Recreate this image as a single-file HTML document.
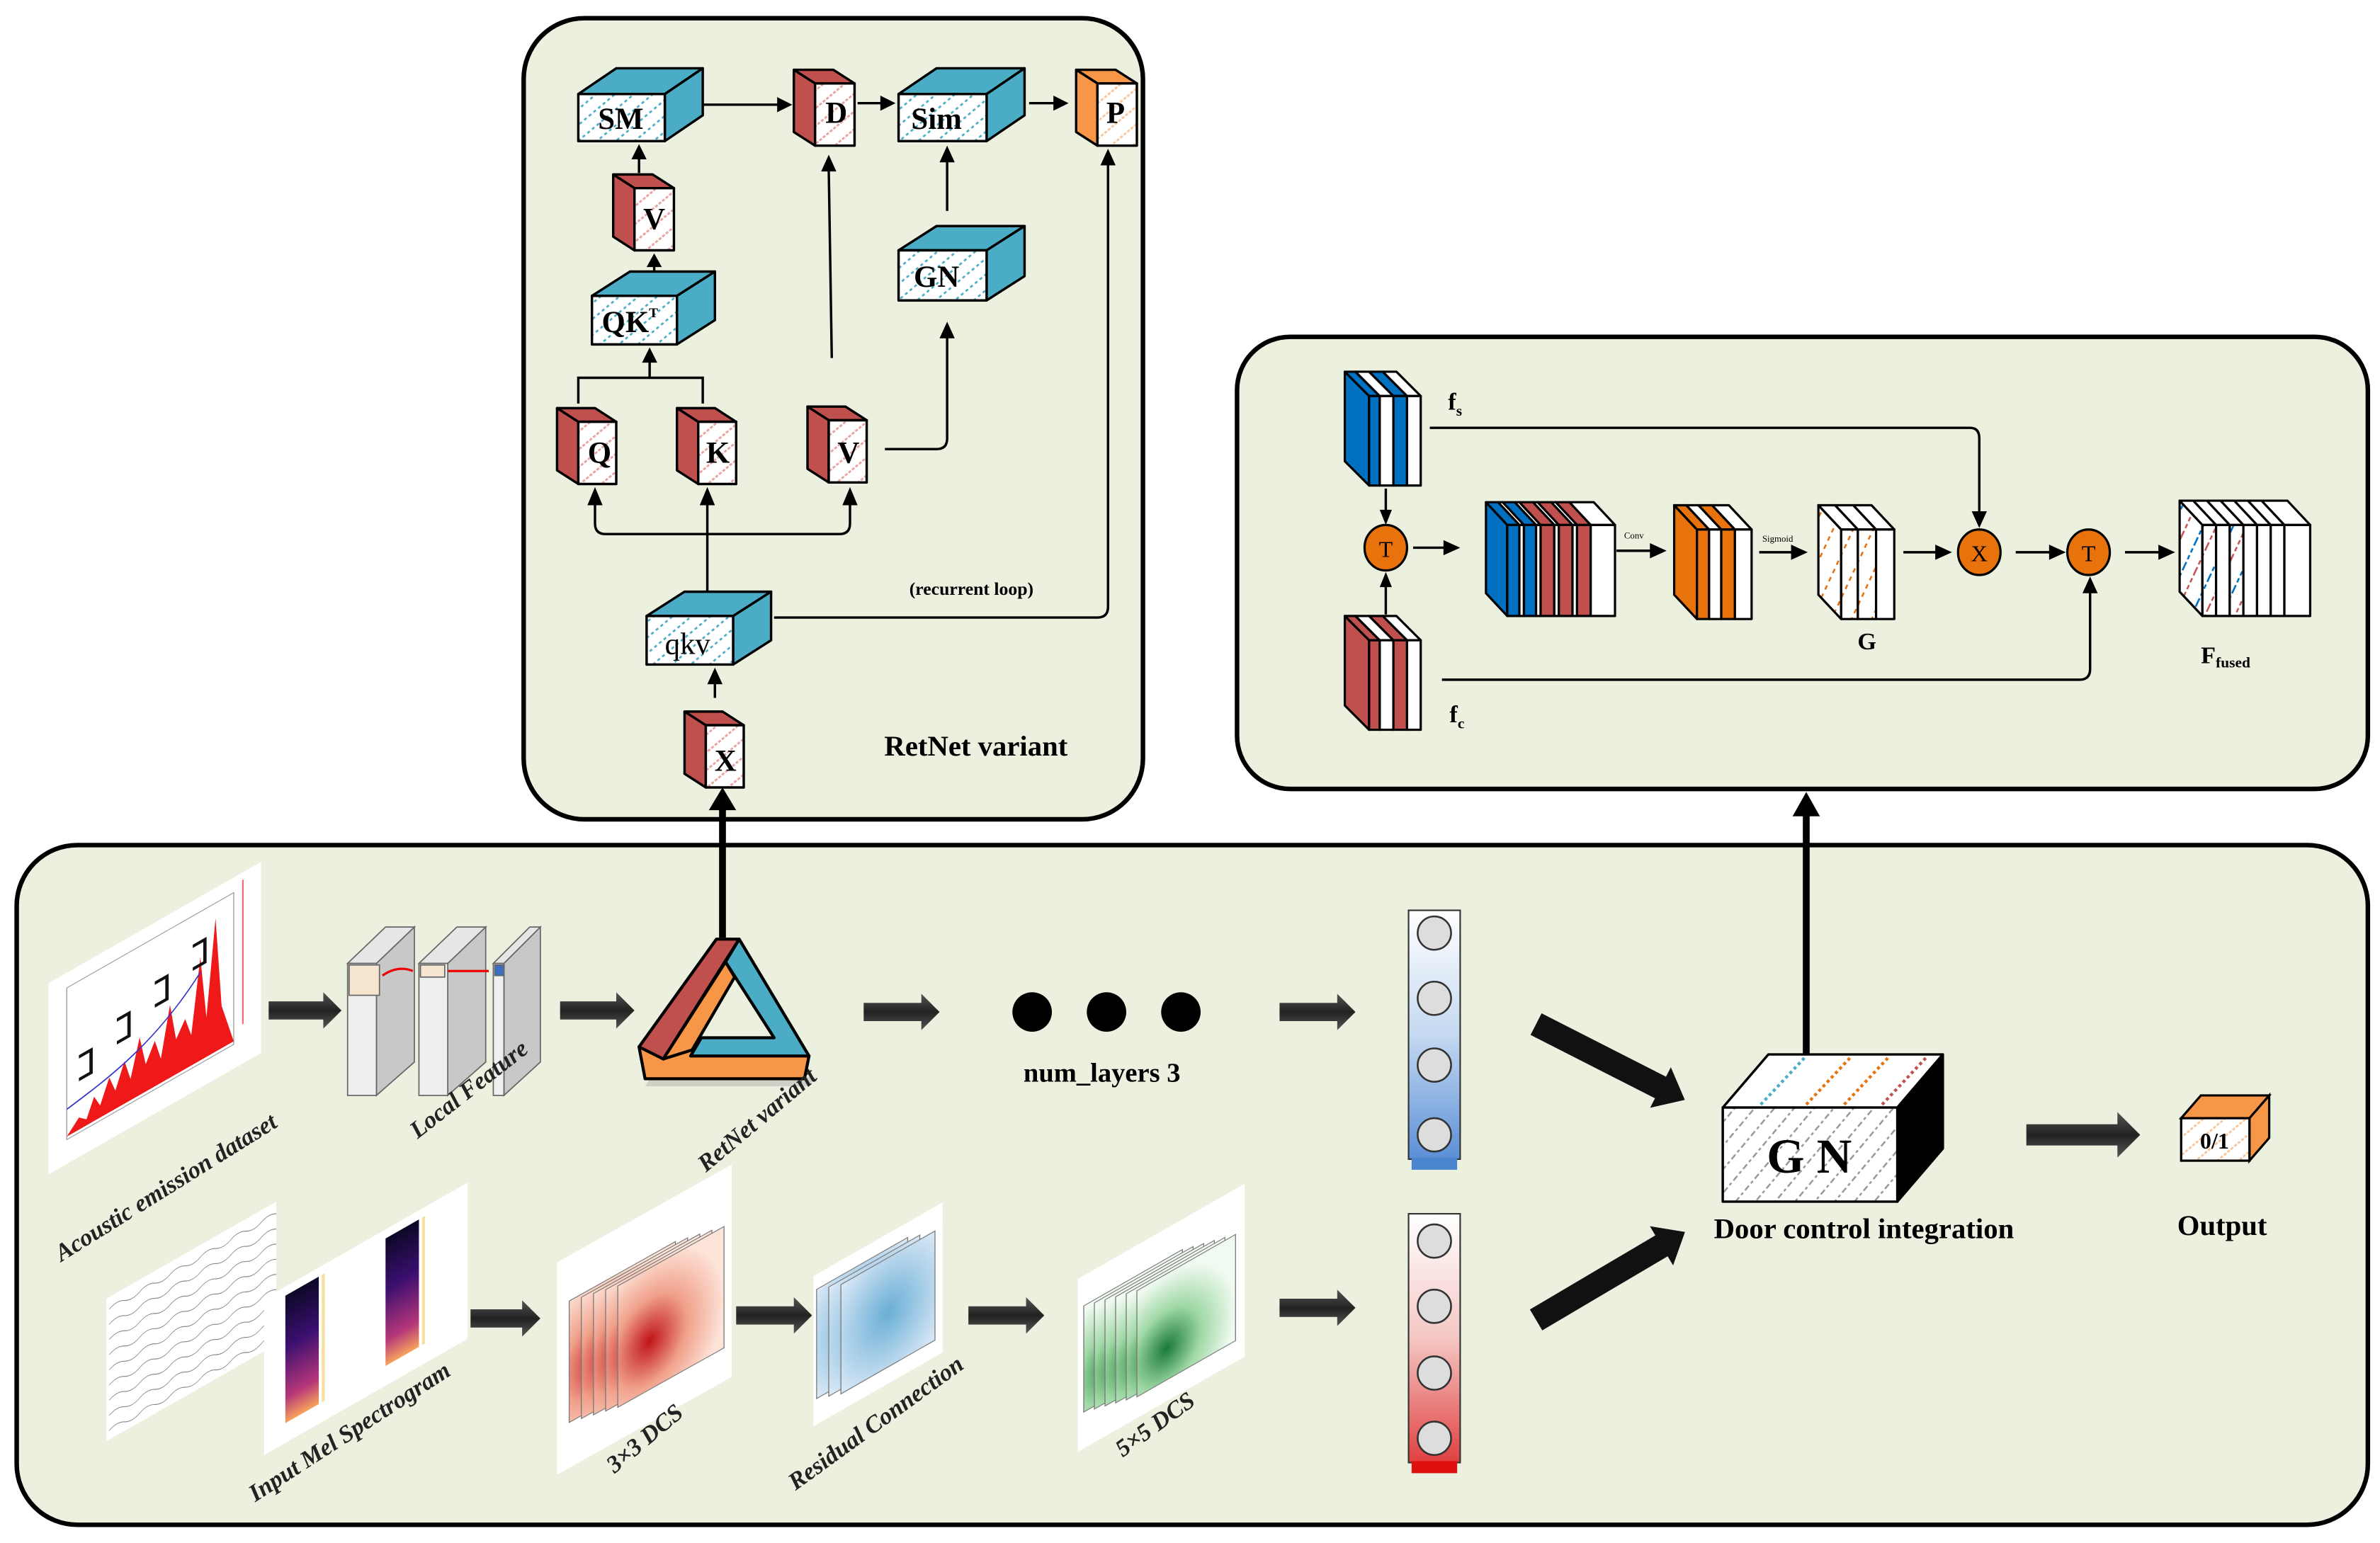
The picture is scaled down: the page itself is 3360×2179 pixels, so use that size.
<!DOCTYPE html>
<html><head><meta charset="utf-8"><style>
html,body{margin:0;padding:0;background:#fff;}
svg{display:block;}
text{font-family:"Liberation Serif",serif;}
</style></head><body>
<svg width="3360" height="2179" viewBox="0 0 1568 1017" preserveAspectRatio="none" xmlns="http://www.w3.org/2000/svg">
<defs>
<pattern id="hb" width="8" height="8" patternUnits="userSpaceOnUse" patternTransform="rotate(-40)">
<rect width="8" height="8" fill="#fff"/><line x1="0" y1="4" x2="8" y2="4" stroke="#4bacc6" stroke-width="1.3" stroke-dasharray="2 2"/></pattern>
<pattern id="hr" width="9" height="9" patternUnits="userSpaceOnUse" patternTransform="rotate(-40)">
<rect width="9" height="9" fill="#fff"/><line x1="0" y1="4" x2="9" y2="4" stroke="#e6a3a0" stroke-width="1.3" stroke-dasharray="2 1"/></pattern>
<pattern id="ho" width="9" height="9" patternUnits="userSpaceOnUse" patternTransform="rotate(-40)">
<rect width="9" height="9" fill="#fff"/><line x1="0" y1="4" x2="9" y2="4" stroke="#fac59a" stroke-width="1.3" stroke-dasharray="2 1"/></pattern>
<pattern id="hg" width="10" height="10" patternUnits="userSpaceOnUse" patternTransform="rotate(-50)">
<rect width="10" height="10" fill="#fff"/><line x1="0" y1="5" x2="10" y2="5" stroke="#999" stroke-width="1.2" stroke-dasharray="2 2"/></pattern>
<pattern id="hgo" width="12" height="12" patternUnits="userSpaceOnUse" patternTransform="rotate(-65)">
<rect width="12" height="12" fill="#fff"/><line x1="0" y1="6" x2="12" y2="6" stroke="#e36c09" stroke-width="1.2" stroke-dasharray="3 3"/></pattern>
<pattern id="hff" width="18" height="18" patternUnits="userSpaceOnUse" patternTransform="rotate(-65)">
<rect width="18" height="18" fill="#fff"/><line x1="0" y1="4" x2="18" y2="4" stroke="#0070c0" stroke-width="1.2" stroke-dasharray="3 2"/><line x1="0" y1="12" x2="18" y2="12" stroke="#c0504d" stroke-width="1.2" stroke-dasharray="3 2"/></pattern>
<linearGradient id="colb" x1="0" y1="0" x2="0" y2="1"><stop offset="0" stop-color="#fff"/><stop offset="0.5" stop-color="#c5d9f1"/><stop offset="1" stop-color="#5b8fd6"/></linearGradient>
<linearGradient id="colr" x1="0" y1="0" x2="0" y2="1"><stop offset="0" stop-color="#fff"/><stop offset="0.5" stop-color="#f4c7c3"/><stop offset="1" stop-color="#e04040"/></linearGradient>
<linearGradient id="ar" x1="0" y1="0" x2="0" y2="1"><stop offset="0" stop-color="#555"/><stop offset="0.5" stop-color="#222"/><stop offset="1" stop-color="#555"/></linearGradient>
<radialGradient id="redh" cx="0.3" cy="0.6" r="0.7"><stop offset="0" stop-color="#c0141a"/><stop offset="0.5" stop-color="#f0a08a"/><stop offset="1" stop-color="#fde3d8"/></radialGradient>
<radialGradient id="blueh" cx="0.5" cy="0.5" r="0.7"><stop offset="0" stop-color="#6aaed6"/><stop offset="1" stop-color="#dbe9f6"/></radialGradient>
<radialGradient id="greenh" cx="0.3" cy="0.7" r="0.7"><stop offset="0" stop-color="#1a7a3a"/><stop offset="0.5" stop-color="#9fd8a5"/><stop offset="1" stop-color="#f0faf0"/></radialGradient>
<linearGradient id="mel" x1="0" y1="1" x2="0" y2="0"><stop offset="0" stop-color="#f7a35c"/><stop offset="0.2" stop-color="#b63679"/><stop offset="0.6" stop-color="#3b0f70"/><stop offset="1" stop-color="#0c0826"/></linearGradient>
</defs>

<!-- Panels -->
<rect x="345" y="12" width="408" height="528" rx="40" fill="#ebf0df" stroke="#000" stroke-width="3"/>
<rect x="815" y="222" width="745" height="298" rx="35" fill="#ebf0df" stroke="#000" stroke-width="3"/>
<rect x="11" y="557" width="1549" height="448" rx="40" fill="#ebf0df" stroke="#000" stroke-width="3"/>

<!-- ===== RetNet panel ===== -->
<g stroke="#000" stroke-width="1.6" stroke-linejoin="round">
<polygon points="381,62 406,45 463,45 438,62" fill="#4bacc6"/><polygon points="438,62 463,45 463,76 438,93" fill="#4bacc6"/><rect x="381" y="62" width="57" height="31" fill="url(#hb)"/>
<polygon points="592,62 617,45 675,45 650,62" fill="#4bacc6"/><polygon points="650,62 675,45 675,76 650,93" fill="#4bacc6"/><rect x="592" y="62" width="58" height="31" fill="url(#hb)"/>
<polygon points="390,195 415,179 471,179 446,195" fill="#4bacc6"/><polygon points="446,195 471,179 471,211 446,227" fill="#4bacc6"/><rect x="390" y="195" width="56" height="32" fill="url(#hb)"/>
<polygon points="592,165 617,149 675,149 650,165" fill="#4bacc6"/><polygon points="650,165 675,149 675,182 650,198" fill="#4bacc6"/><rect x="592" y="165" width="58" height="33" fill="url(#hb)"/>
<polygon points="426,406 451,390 508,390 483,406" fill="#4bacc6"/><polygon points="483,406 508,390 508,422 483,438" fill="#4bacc6"/><rect x="426" y="406" width="57" height="32" fill="url(#hb)"/>
<polygon points="537,55 523,46 549,46 563,55" fill="#c0504d"/><polygon points="537,55 523,46 523,87 537,96" fill="#c0504d"/><rect x="537" y="55" width="26" height="41" fill="url(#hr)"/>
<polygon points="723,55 709,46 735,46 749,55" fill="#f79646"/><polygon points="723,55 709,46 709,87 723,96" fill="#f79646"/><rect x="723" y="55" width="26" height="41" fill="url(#ho)"/>
<polygon points="418,124 404,115 430,115 444,124" fill="#c0504d"/><polygon points="418,124 404,115 404,156 418,165" fill="#c0504d"/><rect x="418" y="124" width="26" height="41" fill="url(#hr)"/>
<polygon points="381,278 367,269 392,269 406,278" fill="#c0504d"/><polygon points="381,278 367,269 367,310 381,319" fill="#c0504d"/><rect x="381" y="278" width="25" height="41" fill="url(#hr)"/>
<polygon points="460,278 446,269 471,269 485,278" fill="#c0504d"/><polygon points="460,278 446,269 446,310 460,319" fill="#c0504d"/><rect x="460" y="278" width="25" height="41" fill="url(#hr)"/>
<polygon points="546,277 532,268 557,268 571,277" fill="#c0504d"/><polygon points="546,277 532,268 532,309 546,318" fill="#c0504d"/><rect x="546" y="277" width="25" height="41" fill="url(#hr)"/>
<polygon points="465,478 451,469 476,469 490,478" fill="#c0504d"/><polygon points="465,478 451,469 451,510 465,519" fill="#c0504d"/><rect x="465" y="478" width="25" height="41" fill="url(#hr)"/>
</g>
<g font-weight="bold" font-size="20" text-anchor="middle" fill="#000">
<text x="409" y="85">SM</text>
<text x="551" y="81">D</text>
<text x="617" y="85">Sim</text>
<text x="735" y="81">P</text>
<text x="431" y="151">V</text>
<text x="415" y="219">QK<tspan font-size="9" dy="-10">T</tspan></text>
<text x="617" y="189">GN</text>
<text x="395" y="305">Q</text>
<text x="473" y="305">K</text>
<text x="559" y="305">V</text>
<text x="478" y="508">X</text>
</g>
<text x="453" y="431" font-size="20" text-anchor="middle">qkv</text>
<text x="640" y="392" font-size="12" font-weight="bold" text-anchor="middle">(recurrent loop)</text>
<text x="643" y="498" font-size="19" font-weight="bold" text-anchor="middle">RetNet variant</text>

<g stroke="#000" stroke-width="1.6" fill="none">
<line x1="463" y1="69" x2="514" y2="69"/>
<line x1="565" y1="68" x2="581" y2="68"/>
<line x1="678" y1="68" x2="695" y2="68"/>
<line x1="421" y1="114" x2="421" y2="104"/>
<line x1="431" y1="179" x2="431" y2="175"/>
<polyline points="381,266 381,249 463,249 463,266"/>
<line x1="428" y1="249" x2="428" y2="238"/>
<line x1="548" y1="236" x2="546" y2="112"/>
<line x1="624" y1="139" x2="624" y2="106"/>
<path d="M583,296 H617 Q624,296 624,289 V222"/>
<line x1="466" y1="390" x2="466" y2="332"/>
<path d="M392,332 V345 Q392,352 399,352 H553 Q560,352 560,345 V332"/>
<path d="M510,407 H723 Q730,407 730,400 V108"/>
<line x1="471" y1="460" x2="471" y2="450"/>
</g>
<g fill="#000">
<polygon points="522,69 512,64 512,74"/>
<polygon points="590,68 580,63 580,73"/>
<polygon points="704,68 694,63 694,73"/>
<polygon points="421,95 416,105 426,105"/>
<polygon points="431,167 426,176 436,176"/>
<polygon points="428,229 423,239 433,239"/>
<polygon points="546,102 541,113 551,113"/>
<polygon points="624,96 619,107 629,107"/>
<polygon points="624,212 619,223 629,223"/>
<polygon points="466,321 461,333 471,333"/>
<polygon points="392,321 387,333 397,333"/>
<polygon points="560,321 555,333 565,333"/>
<polygon points="730,98 725,109 735,109"/>
<polygon points="471,440 466,451 476,451"/>
</g>

<!-- ===== Fusion panel ===== -->
<g stroke="#000" stroke-width="1.5" stroke-linejoin="round">
<polygon points="886,245 902,261 902,320 886,304" fill="#0070c0"/>
<polygon points="886,245 893,245 909,261 902,261" fill="#0070c0"/>
<polygon points="893,245 902,245 918,261 909,261" fill="#fff"/>
<polygon points="902,245 911,245 927,261 918,261" fill="#0070c0"/>
<polygon points="911,245 920,245 936,261 927,261" fill="#fff"/>
<rect x="902" y="261" width="7" height="59" fill="#0070c0"/><rect x="909" y="261" width="9" height="59" fill="#fff"/><rect x="918" y="261" width="9" height="59" fill="#0070c0"/><rect x="927" y="261" width="9" height="59" fill="#fff"/>
<polygon points="886,406 902,422 902,481 886,465" fill="#c0504d"/>
<polygon points="886,406 893,406 909,422 902,422" fill="#c0504d"/>
<polygon points="893,406 902,406 918,422 909,422" fill="#fff"/>
<polygon points="902,406 911,406 927,422 918,422" fill="#c0504d"/>
<polygon points="911,406 920,406 936,422 927,422" fill="#fff"/>
<rect x="902" y="422" width="7" height="59" fill="#c0504d"/><rect x="909" y="422" width="9" height="59" fill="#fff"/><rect x="918" y="422" width="9" height="59" fill="#c0504d"/><rect x="927" y="422" width="9" height="59" fill="#fff"/>
<polygon points="979,331 993,346 993,406 979,391" fill="#0070c0"/>
<polygon points="979,331 987,331 1001,346 993,346" fill="#0070c0"/>
<polygon points="987,331 990,331 1004,346 1001,346" fill="#fff"/>
<polygon points="990,331 998,331 1012,346 1004,346" fill="#0070c0"/>
<polygon points="998,331 1001,331 1015,346 1012,346" fill="#fff"/>
<polygon points="1001,331 1010,331 1024,346 1015,346" fill="#c0504d"/>
<polygon points="1010,331 1013,331 1027,346 1024,346" fill="#fff"/>
<polygon points="1013,331 1022,331 1036,346 1027,346" fill="#c0504d"/>
<polygon points="1022,331 1025,331 1039,346 1036,346" fill="#fff"/>
<polygon points="1025,331 1034,331 1048,346 1039,346" fill="#c0504d"/>
<polygon points="1034,331 1050,331 1064,346 1048,346" fill="#fff"/>
<rect x="993" y="346" width="8" height="60" fill="#0070c0"/><rect x="1001" y="346" width="3" height="60" fill="#fff"/><rect x="1004" y="346" width="8" height="60" fill="#0070c0"/><rect x="1012" y="346" width="3" height="60" fill="#fff"/><rect x="1015" y="346" width="9" height="60" fill="#c0504d"/><rect x="1024" y="346" width="3" height="60" fill="#fff"/><rect x="1027" y="346" width="9" height="60" fill="#c0504d"/><rect x="1036" y="346" width="3" height="60" fill="#fff"/><rect x="1039" y="346" width="9" height="60" fill="#c0504d"/><rect x="1048" y="346" width="16" height="60" fill="#fff"/>
<polygon points="1103,333 1118,349 1118,408 1103,392" fill="#e8720c"/>
<polygon points="1103,333 1111,333 1126,349 1118,349" fill="#e8720c"/>
<polygon points="1111,333 1119,333 1134,349 1126,349" fill="#fff"/>
<polygon points="1119,333 1128,333 1143,349 1134,349" fill="#e8720c"/>
<polygon points="1128,333 1139,333 1154,349 1143,349" fill="#fff"/>
<rect x="1118" y="349" width="8" height="59" fill="#e8720c"/><rect x="1126" y="349" width="8" height="59" fill="#fff"/><rect x="1134" y="349" width="9" height="59" fill="#e8720c"/><rect x="1143" y="349" width="11" height="59" fill="#fff"/>
<polygon points="1198,333 1213,349 1213,408 1198,392" fill="url(#hgo)"/>
<polygon points="1198,333 1209,333 1224,349 1213,349" fill="#fff"/>
<polygon points="1209,333 1221,333 1236,349 1224,349" fill="#fff"/>
<polygon points="1221,333 1233,333 1248,349 1236,349" fill="#fff"/>
<rect x="1213" y="349" width="11" height="59" fill="url(#hgo)"/><rect x="1224" y="349" width="12" height="59" fill="url(#hgo)"/><rect x="1236" y="349" width="12" height="59" fill="#fff"/>
<polygon points="1436,330 1451,346 1451,406 1436,390" fill="url(#hff)"/>
<polygon points="1436,330 1445,330 1460,346 1451,346" fill="#fff"/>
<polygon points="1445,330 1454,330 1469,346 1460,346" fill="#fff"/>
<polygon points="1454,330 1463,330 1478,346 1469,346" fill="#fff"/>
<polygon points="1463,330 1472,330 1487,346 1478,346" fill="#fff"/>
<polygon points="1472,330 1481,330 1496,346 1487,346" fill="#fff"/>
<polygon points="1481,330 1490,330 1505,346 1496,346" fill="#fff"/>
<polygon points="1490,330 1507,330 1522,346 1505,346" fill="#fff"/>
<rect x="1451" y="346" width="9" height="60" fill="url(#hff)"/><rect x="1460" y="346" width="9" height="60" fill="#fff"/><rect x="1469" y="346" width="9" height="60" fill="url(#hff)"/><rect x="1478" y="346" width="9" height="60" fill="#fff"/><rect x="1487" y="346" width="9" height="60" fill="#fff"/><rect x="1496" y="346" width="9" height="60" fill="#fff"/><rect x="1505" y="346" width="17" height="60" fill="#fff"/>
<ellipse cx="913" cy="361" rx="14" ry="15" fill="#e8720c"/>
<ellipse cx="1304" cy="364" rx="14" ry="15" fill="#e8720c"/>
<ellipse cx="1376" cy="364" rx="14" ry="15" fill="#e8720c"/>
</g>
<g font-size="15" text-anchor="middle" fill="#000">
<text x="913" y="367">T</text><text x="1304" y="370">X</text><text x="1376" y="370">T</text>
</g>
<text x="954" y="270" font-size="16" font-weight="bold">f<tspan font-size="10" dy="4">s</tspan></text>
<text x="955" y="476" font-size="16" font-weight="bold">f<tspan font-size="10" dy="4">c</tspan></text>
<text x="1070" y="355" font-size="6">Conv</text>
<text x="1161" y="357" font-size="6">Sigmoid</text>
<text x="1230" y="428" font-size="16" font-weight="bold" font-family="Liberation Sans, sans-serif" text-anchor="middle">G</text>
<text x="1450" y="437" font-size="16" font-weight="bold" font-family="Liberation Sans, sans-serif">F<tspan font-size="10" dy="3">fused</tspan></text>
<g stroke="#000" stroke-width="1.6" fill="none">
<line x1="913" y1="322" x2="913" y2="337"/>
<line x1="913" y1="405" x2="913" y2="386"/>
<line x1="931" y1="361" x2="952" y2="361"/>
<line x1="1065" y1="363" x2="1088" y2="363"/>
<line x1="1159" y1="364" x2="1181" y2="364"/>
<line x1="1254" y1="364" x2="1277" y2="364"/>
<line x1="1328" y1="364" x2="1351" y2="364"/>
<line x1="1400" y1="364" x2="1423" y2="364"/>
<path d="M942,282 H1298 Q1304,282 1304,289 V340"/>
<path d="M950,448 H1370 Q1377,448 1377,441 V390"/>
</g>
<g fill="#000">
<polygon points="913,346 909,336 917,336"/>
<polygon points="913,377 909,387 917,387"/>
<polygon points="962,361 951,356 951,366"/>
<polygon points="1098,363 1087,358 1087,368"/>
<polygon points="1191,364 1180,359 1180,369"/>
<polygon points="1286,364 1275,359 1275,369"/>
<polygon points="1361,364 1350,359 1350,369"/>
<polygon points="1433,364 1422,359 1422,369"/>
<polygon points="1304,348 1299,337 1309,337"/>
<polygon points="1377,380 1372,391 1382,391"/>
</g>

<!-- ===== Bottom panel ===== -->
<line x1="476" y1="618" x2="476" y2="530" stroke="#000" stroke-width="4.5"/>
<polygon points="467,534 485,534 476,519" fill="#000"/>
<line x1="1190" y1="697" x2="1190" y2="534" stroke="#000" stroke-width="4.5"/>
<polygon points="1181,538 1199,538 1190,522" fill="#000"/>

<g transform="matrix(1,-0.571,0,1,32,648)">
<rect x="0" y="0" width="140" height="126" fill="#fff"/>
<rect x="12" y="10" width="110" height="100" fill="none" stroke="#999" stroke-width="0.6"/>
<path d="M12,108 L20,100 L25,104 L30,92 L34,100 L40,85 L44,96 L50,80 L54,94 L60,70 L64,90 L70,78 L74,92 L80,60 L84,85 L90,75 L94,88 L100,40 L104,82 L110,20 L114,80 L122,108 Z" fill="#e00" opacity="0.9"/>
<path d="M12,90 C40,85 70,80 100,50" stroke="#33c" stroke-width="1" fill="none"/>
<path d="M20,60 h8 v15 h-8 M45,50 h8 v15 h-8 M70,40 h8 v15 h-8 M95,30 h8 v15 h-8" stroke="#111" stroke-width="2.2" fill="none"/>
<line x1="128" y1="5" x2="128" y2="100" stroke="#e66" stroke-width="1"/>
</g>
<g stroke="#666" stroke-width="0.8">
<polygon points="248,635 273,611 273,700 248,722" fill="#c8c8c8"/><polygon points="229,635 254,611 273,611 248,635" fill="#e6e6e6"/><rect x="229" y="635" width="19" height="87" fill="#efefef"/>
<polygon points="295,635 320,611 320,700 295,722" fill="#c8c8c8"/><polygon points="276,635 301,611 320,611 295,635" fill="#e6e6e6"/><rect x="276" y="635" width="19" height="87" fill="#efefef"/>
<polygon points="332,635 356,611 356,700 332,722" fill="#c8c8c8"/><polygon points="325,635 349,611 356,611 332,635" fill="#e6e6e6"/><rect x="325" y="635" width="7" height="87" fill="#efefef"/>
<rect x="230" y="636" width="20" height="20" fill="#f6e6d0"/><rect x="277" y="636" width="16" height="8" fill="#f6e6d0"/><rect x="326" y="636" width="6" height="7" fill="#3c6ec0"/>
</g>
<path d="M252,643 Q262,636 272,640 M295,640 H322" stroke="#e00" stroke-width="1.5" fill="none"/>
<!-- triangle -->
<polygon points="425,716 533,716 537,710 429,710" fill="#999" opacity="0.35"/>
<g stroke="#000" stroke-width="2" stroke-linejoin="round">
<polygon points="421,690 533,696 530,711 425,711" fill="#f79646"/>
<polygon points="472,619 487,619 437,698 421,690" fill="#c0504d"/>
<polygon points="487,619 533,696 455,696 462,684 510,684 478,634" fill="#4bacc6"/>
<polygon points="478,634 484,644 456,692 437,698" fill="#f79646"/>
</g>
<circle cx="680" cy="667" r="13" fill="#000"/><circle cx="729" cy="667" r="13" fill="#000"/><circle cx="778" cy="667" r="13" fill="#000"/>
<text x="726" y="713" font-size="18" font-weight="bold" text-anchor="middle">num_layers 3</text>
<rect x="928" y="600" width="34" height="164" fill="url(#colb)" stroke="#333" stroke-width="1"/>
<rect x="930" y="763" width="30" height="8" fill="#4a86d0"/>
<g fill="#ddd" stroke="#333" stroke-width="1.2"><circle cx="945" cy="615" r="11"/><circle cx="945" cy="658" r="11"/><circle cx="945" cy="702" r="11"/><circle cx="945" cy="748" r="11"/></g>
<rect x="928" y="800" width="34" height="164" fill="url(#colr)" stroke="#333" stroke-width="1"/>
<rect x="930" y="963" width="30" height="8" fill="#e01010"/>
<g fill="#ddd" stroke="#333" stroke-width="1.2"><circle cx="945" cy="818" r="11"/><circle cx="945" cy="861" r="11"/><circle cx="945" cy="905" r="11"/><circle cx="945" cy="948" r="11"/></g>
<g fill="url(#ar)">
<path d="M177,660 H213 V654 L225,666 L213,678 V672 H177 Z"/>
<path d="M369,660 H406 V654 L418,666 L406,678 V672 H369 Z"/>
<path d="M569,661 H607 V655 L619,667 L607,679 V673 H569 Z"/>
<path d="M843,661 H881 V655 L893,667 L881,679 V673 H843 Z"/>
<path d="M310,863 H344 V857 L356,869 L344,881 V875 H310 Z"/>
<path d="M485,861 H523 V855 L535,867 L523,879 V873 H485 Z"/>
<path d="M638,861 H676 V855 L688,867 L676,879 V873 H638 Z"/>
<path d="M843,856 H881 V850 L893,862 L881,874 V868 H843 Z"/>
<path d="M1335,741 H1395 V733 L1410,748 L1395,763 V755 H1335 Z"/>
</g>
<g fill="#111">
<path transform="translate(1012,675) rotate(27)" d="M0,-8 H92 V-15 L110,0 L92,15 V8 H0 Z"/>
<path transform="translate(1012,870) rotate(-30.6)" d="M0,-8 H96 V-15 L114,0 L96,15 V8 H0 Z"/>
</g>
<g stroke="#000" stroke-width="1.6" stroke-linejoin="round">
<polygon points="1135,730 1165,695 1280,695 1250,730" fill="#fff"/>
<polygon points="1250,730 1280,695 1280,757 1250,792" fill="#000"/>
<rect x="1135" y="730" width="115" height="62" fill="url(#hg)"/>
</g>
<g stroke-width="2" stroke-dasharray="2 2">
<line x1="1160" y1="728" x2="1190" y2="696" stroke="#4bacc6"/>
<line x1="1190" y1="728" x2="1220" y2="696" stroke="#e8720c"/>
<line x1="1215" y1="728" x2="1245" y2="696" stroke="#e8720c"/>
<line x1="1240" y1="728" x2="1270" y2="696" stroke="#c0504d"/>
</g>
<text x="1192" y="773" font-size="32" font-weight="bold" text-anchor="middle">G N</text>
<text x="1228" y="816" font-size="19" font-weight="bold" text-anchor="middle">Door control integration</text>
<g stroke="#000" stroke-width="1.5">
<polygon points="1437,737 1450,722 1495,722 1482,737" fill="#f79646"/>
<polygon points="1482,737 1495,722 1495,750 1482,765" fill="#f79646"/>
<rect x="1437" y="737" width="45" height="28" fill="url(#ho)"/>
</g>
<text x="1459" y="757" font-size="15" font-weight="bold" text-anchor="middle">0/1</text>
<text x="1464" y="814" font-size="19" font-weight="bold" text-anchor="middle">Output</text>

<g transform="matrix(1,-0.571,0,1,70,856)">
<rect width="112" height="94" fill="#fff"/>
<g stroke="#888" stroke-width="0.5" fill="none">
<path d="M2,8 q5,-3 10,0 t10,0 t10,0 t10,0 t10,0 t10,0 t10,0 t10,0 t10,0 t10,0 t10,0"/>
<path d="M2,18 q5,-3 10,0 t10,0 t10,0 t10,0 t10,0 t10,0 t10,0 t10,0 t10,0 t10,0 t10,0"/>
<path d="M2,28 q5,-3 10,0 t10,0 t10,0 t10,0 t10,0 t10,0 t10,0 t10,0 t10,0 t10,0 t10,0"/>
<path d="M2,38 q5,-3 10,0 t10,0 t10,0 t10,0 t10,0 t10,0 t10,0 t10,0 t10,0 t10,0 t10,0"/>
<path d="M2,48 q5,-3 10,0 t10,0 t10,0 t10,0 t10,0 t10,0 t10,0 t10,0 t10,0 t10,0 t10,0"/>
<path d="M2,58 q5,-3 10,0 t10,0 t10,0 t10,0 t10,0 t10,0 t10,0 t10,0 t10,0 t10,0 t10,0"/>
<path d="M2,68 q5,-3 10,0 t10,0 t10,0 t10,0 t10,0 t10,0 t10,0 t10,0 t10,0 t10,0 t10,0"/>
<path d="M2,78 q5,-3 10,0 t10,0 t10,0 t10,0 t10,0 t10,0 t10,0 t10,0 t10,0 t10,0 t10,0"/>
<path d="M2,88 q5,-3 10,0 t10,0 t10,0 t10,0 t10,0 t10,0 t10,0 t10,0 t10,0 t10,0 t10,0"/>
</g></g>
<g transform="matrix(1,-0.571,0,1,174,856)">
<rect width="134" height="103" fill="#fff"/>
<rect x="14" y="6" width="22" height="84" fill="url(#mel)"/>
<rect x="80" y="6" width="22" height="84" fill="url(#mel)"/>
<rect x="38" y="6" width="2" height="84" fill="#f5e0a0"/><rect x="104" y="6" width="2" height="84" fill="#f5e0a0"/>
</g>
<g transform="matrix(1,-0.56,0,1,367,832)">
<rect width="115" height="140" fill="#fff"/>
<g stroke="#777" stroke-width="0.6" fill="url(#redh)">
<rect x="8" y="30" width="70" height="80"/><rect x="16" y="32" width="70" height="80"/><rect x="24" y="34" width="70" height="80"/><rect x="32" y="36" width="70" height="80"/><rect x="40" y="38" width="70" height="80"/>
</g></g>
<g transform="matrix(1,-0.571,0,1,536,841)">
<rect width="85" height="99" fill="#fff"/>
<g stroke="#777" stroke-width="0.6" fill="url(#blueh)">
<rect x="2" y="10" width="60" height="72"/><rect x="10" y="13" width="60" height="72"/><rect x="18" y="16" width="62" height="72"/>
</g></g>
<g transform="matrix(1,-0.571,0,1,710,843)">
<rect width="110" height="114" fill="#fff"/>
<g stroke="#777" stroke-width="0.6" fill="url(#greenh)">
<rect x="4" y="20" width="65" height="70"/><rect x="11" y="22" width="65" height="70"/><rect x="18" y="24" width="65" height="70"/><rect x="25" y="26" width="65" height="70"/><rect x="32" y="28" width="65" height="70"/><rect x="39" y="30" width="65" height="70"/>
</g></g>

<g font-size="16" font-weight="bold" font-style="italic" text-anchor="middle" fill="#222">
<text transform="translate(112,787) rotate(-32)">Acoustic emission dataset</text>
<text transform="translate(312,722) rotate(-38)">Local Feature</text>
<text transform="translate(502,742) rotate(-40)">RetNet variant</text>
<text transform="translate(233,948) rotate(-33)">Input Mel Spectrogram</text>
<text transform="translate(428,952) rotate(-40)">3×3 DCS</text>
<text transform="translate(580,942) rotate(-36)">Residual Connection</text>
<text transform="translate(764,943) rotate(-36)">5×5 DCS</text>
</g>
</svg>
</body></html>
